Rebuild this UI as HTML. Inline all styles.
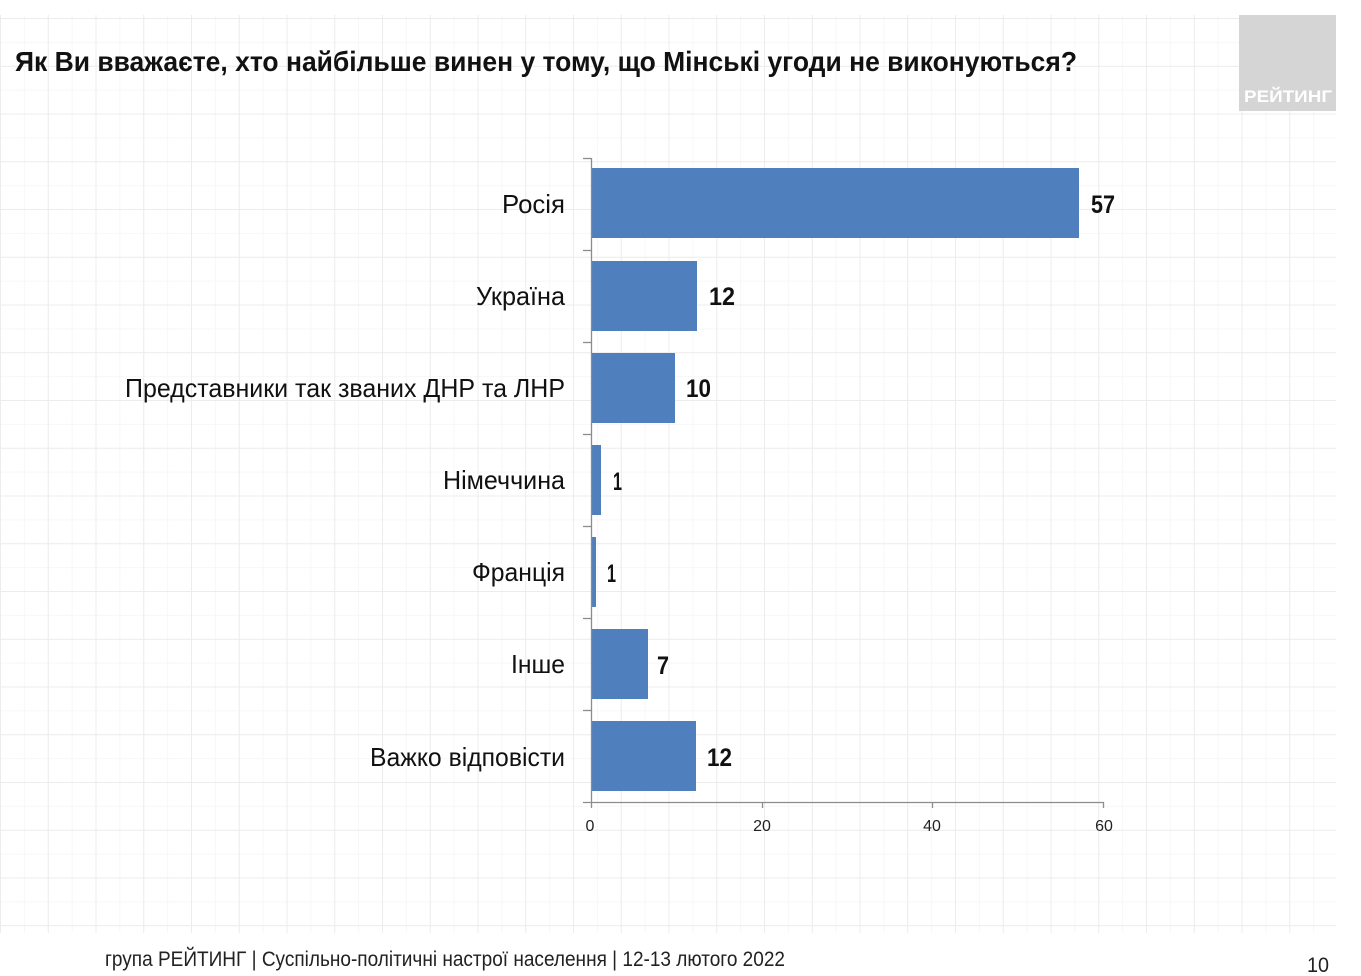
<!DOCTYPE html>
<html><head><meta charset="utf-8"><style>
html,body{margin:0;padding:0;background:#fff;}
svg{display:block;}
text{font-family:"Liberation Sans Narrow","Liberation Sans",Arial,sans-serif;}
</style></head><body>
<svg width="1361" height="976" viewBox="0 0 1361 976" xmlns="http://www.w3.org/2000/svg">
<defs>
<pattern id="gminor" x="0" y="18" width="23.875" height="23.875" patternUnits="userSpaceOnUse">
<path d="M0 0.5H23.875M0.5 0V23.875" stroke="#f7f7f7" stroke-width="1" fill="none"/>
</pattern>
<pattern id="gmajor" x="0" y="18" width="47.75" height="47.75" patternUnits="userSpaceOnUse">
<path d="M0 0.5H47.75M0.5 0V47.75" stroke="#ececec" stroke-width="1" fill="none"/>
</pattern>
</defs>
<rect x="0" y="0" width="1361" height="976" fill="#fff"/>
<rect x="0" y="15" width="1336" height="918" fill="url(#gminor)"/>
<rect x="0" y="15" width="1336" height="918" fill="url(#gmajor)"/>

<!-- logo -->
<rect x="1239" y="15" width="97" height="96" fill="#d5d5d5"/>
<text x="1244" y="102" font-size="17" font-weight="bold" fill="#fff" style="font-family:'Liberation Sans',sans-serif" textLength="88" lengthAdjust="spacingAndGlyphs">РЕЙТИНГ</text>

<!-- title -->
<text x="15" y="71" font-size="28" font-weight="bold" fill="#111" style="font-family:'Liberation Sans',sans-serif" textLength="1062" lengthAdjust="spacingAndGlyphs">Як Ви вважаєте, хто найбільше винен у тому, що Мінські угоди не виконуються?</text>

<!-- bars -->
<g fill="#4f7fbc">
<rect x="591" y="168" width="488" height="70"/>
<rect x="591" y="261" width="106" height="70"/>
<rect x="591" y="353" width="84" height="70"/>
<rect x="591" y="445" width="10" height="70"/>
<rect x="591" y="537" width="5" height="70"/>
<rect x="591" y="629" width="57" height="70"/>
<rect x="591" y="721" width="105" height="70"/>
</g>

<!-- axes -->
<g stroke="#8c8c8c" stroke-width="1.3" fill="none">
<line x1="591.5" y1="158" x2="591.5" y2="808"/>
<line x1="583" y1="802.5" x2="1104" y2="802.5"/>
<line x1="583" y1="158.5" x2="591" y2="158.5"/>
<line x1="583" y1="250.5" x2="591" y2="250.5"/>
<line x1="583" y1="342.5" x2="591" y2="342.5"/>
<line x1="583" y1="434.5" x2="591" y2="434.5"/>
<line x1="583" y1="526.5" x2="591" y2="526.5"/>
<line x1="583" y1="618.5" x2="591" y2="618.5"/>
<line x1="583" y1="710.5" x2="591" y2="710.5"/>
<line x1="762.5" y1="802" x2="762.5" y2="808"/>
<line x1="932.5" y1="802" x2="932.5" y2="808"/>
<line x1="1103.5" y1="802" x2="1103.5" y2="808"/>
</g>

<!-- x tick labels -->
<g font-size="16" fill="#222" text-anchor="middle">
<text x="590" y="831">0</text>
<text x="762" y="831">20</text>
<text x="932" y="831">40</text>
<text x="1104" y="831">60</text>
</g>

<!-- category labels -->
<g font-size="26" fill="#111" text-anchor="end">
<text x="565" y="213" textLength="63" lengthAdjust="spacingAndGlyphs">Росія</text>
<text x="565" y="305" textLength="89" lengthAdjust="spacingAndGlyphs">Україна</text>
<text x="565" y="397" textLength="440" lengthAdjust="spacingAndGlyphs">Представники так званих ДНР та ЛНР</text>
<text x="565" y="489" textLength="122" lengthAdjust="spacingAndGlyphs">Німеччина</text>
<text x="565" y="581" textLength="93" lengthAdjust="spacingAndGlyphs">Франція</text>
<text x="565" y="673" textLength="54" lengthAdjust="spacingAndGlyphs">Інше</text>
<text x="565" y="766" textLength="195" lengthAdjust="spacingAndGlyphs">Важко відповісти</text>
</g>

<!-- value labels -->
<g font-size="25" font-weight="bold" fill="#111">
<text x="1091" y="213" textLength="24" lengthAdjust="spacingAndGlyphs">57</text>
<text x="709" y="305" textLength="26" lengthAdjust="spacingAndGlyphs">12</text>
<text x="686" y="397" textLength="25" lengthAdjust="spacingAndGlyphs">10</text>
<text x="613" y="490" textLength="9" lengthAdjust="spacingAndGlyphs">1</text>
<text x="607" y="582" textLength="9" lengthAdjust="spacingAndGlyphs">1</text>
<text x="657" y="674" textLength="12" lengthAdjust="spacingAndGlyphs">7</text>
<text x="707" y="766" textLength="25" lengthAdjust="spacingAndGlyphs">12</text>
</g>

<!-- footer -->
<text x="105" y="966" font-size="21" fill="#222" textLength="680" lengthAdjust="spacingAndGlyphs">група РЕЙТИНГ | Суспільно-політичні настрої населення | 12-13 лютого 2022</text>
<text x="1307" y="972" font-size="21" fill="#222" textLength="22" lengthAdjust="spacingAndGlyphs">10</text>
</svg>
</body></html>
